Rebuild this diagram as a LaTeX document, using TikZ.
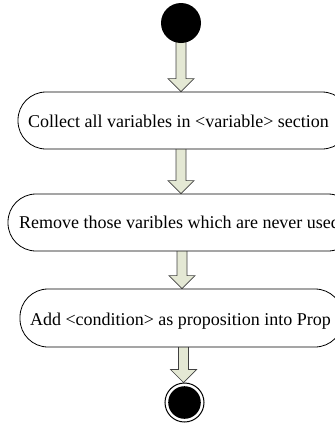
\documentclass[tikz,border=0pt]{standalone}
\usepackage{fontspec}
\setmainfont{Liberation Serif}
\usetikzlibrary{calc}
\pgfdeclarelayer{back}
\pgfsetlayers{back,main}
\definecolor{arrowfill}{HTML}{E4E8D4}
\definecolor{arrowline}{HTML}{404040}

% block arrow: #1 = centre x, #2 = source node, #3 = target node
\newcommand{\flowarrow}[3]{%
  \draw[flowarr]
    ($(#1,0 |- #2.south)+(-5,-3)$) --
    ($(#1,0 |- #3.north)+(-5,-13)$) --
    ($(#1,0 |- #3.north)+(-13,-13)$) --
    (#1,0 |- #3.north) --
    ($(#1,0 |- #3.north)+(13,-13)$) --
    ($(#1,0 |- #3.north)+(5,-13)$) --
    ($(#1,0 |- #2.south)+(5,-3)$) -- cycle;}

\begin{document}
\begin{tikzpicture}[x=1pt,y=-1pt,
  actbox/.style={draw=black, line width=0.8pt, fill=white, rectangle,
    rounded corners=28pt, inner sep=0pt},
  acttext/.style={anchor=base, inner sep=0pt,
    font=\fontsize{18}{21.6}\selectfont},
  flowarr/.style={draw=arrowline, line width=0.7pt, fill=arrowfill,
    line join=miter},
  startdot/.style={circle, fill=black, minimum size=40pt, inner sep=0pt},
  enddot/.style={circle, draw=black, line width=1pt, fill=white,
    minimum size=39pt, inner sep=0pt,
    path picture={\fill[black] (path picture bounding box.center) circle (16.3pt);}}]
\useasboundingbox (0,0) rectangle (335,424);
\clip (0,0) rectangle (335,424);

% initial and final states
\node[startdot] (start) at (181,23) {};
\node[enddot] (stop) at (184.5,402.5) {};

% activities
\node[actbox, minimum width=332pt, minimum height=57pt] (collect) at (184,120.5) {};
\node[acttext] (collecttxt) at (178.5,127) {Collect all variables in <variable> section};

\node[actbox, minimum width=348pt, minimum height=57pt] (remove) at (182,222.5) {};
\node[acttext] (removetxt) at (179.5,228.5) {Remove those varibles which are never used};

\node[actbox, minimum width=323pt, minimum height=58pt] (addprop) at (181.5,318) {};
\node[acttext] (addproptxt) at (180.5,325) {Add <condition> as proposition into Prop};

% transitions
\begin{pgfonlayer}{back}
\flowarrow{181}{start}{collect}
\flowarrow{181}{collect}{remove}
\flowarrow{182}{remove}{addprop}
\flowarrow{183.5}{addprop}{stop}
\end{pgfonlayer}
\end{tikzpicture}
\end{document}
